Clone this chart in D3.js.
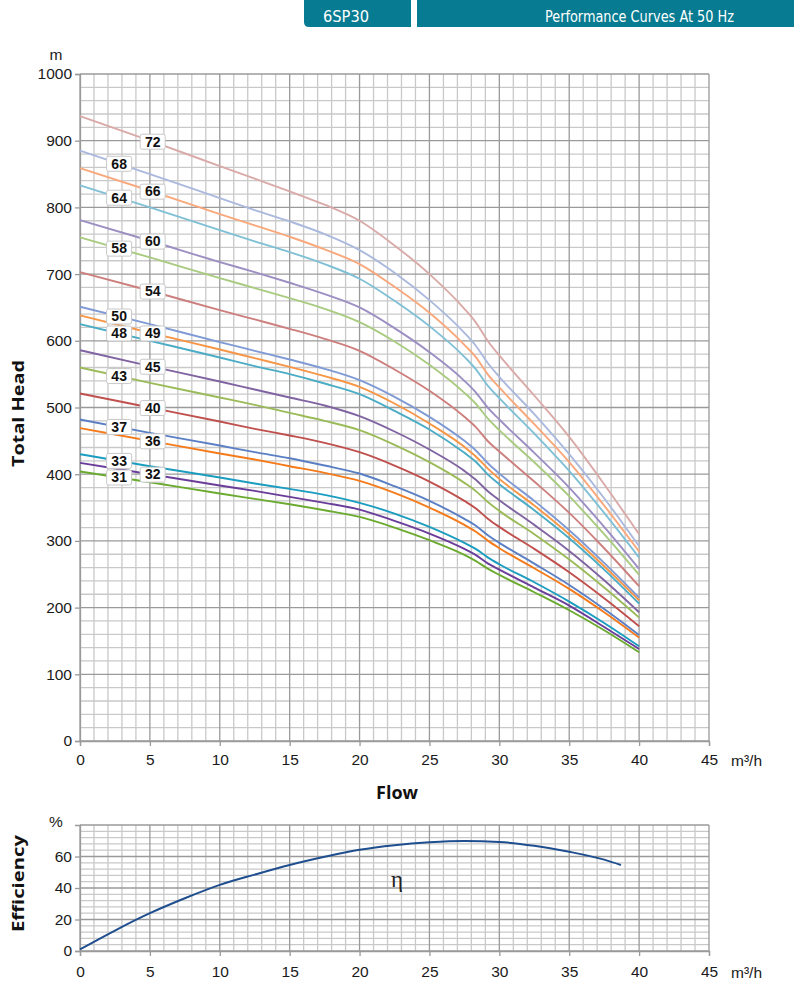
<!DOCTYPE html>
<html><head><meta charset="utf-8">
<script src="https://cdn.jsdelivr.net/npm/d3@7"></script>
<style>body{margin:0;background:#fff}svg{display:block}</style>
</head><body><svg id="c" width="794" height="994"></svg>
<script>
// ---------- data ----------
const flow = [0,5,10,12.5,15,17.5,20,22.5,25,27.5,28.3,29.2,30,32.5,35,37.5,40];
const stages = [31,32,33,36,37,40,43,45,48,49,50,54,58,60,64,66,68,72];
const head31 = [404,388,371,363,355,346,336,320,301,279,270,258,249,223,196,166,133];
const head32 = [417,400,383,375,366,357,347,330,311,288,279,266,257,230,203,171,138];
const head33 = [430,412,395,386,378,369,357,341,321,297,288,275,265,238,209,177,142];
const head36 = [469,450,431,422,412,402,390,372,350,324,314,300,289,259,228,193,155];
const head37 = [482,462,443,433,424,413,401,382,360,333,323,308,297,266,234,198,159];
const head40 = [521,500,479,468,458,447,433,413,389,360,349,333,321,288,253,214,172];
const head43 = [560,537,515,504,492,480,466,444,418,387,375,358,345,310,272,230,185];
const head45 = [586,562,539,527,515,503,487,464,437,405,392,374,361,324,285,241,193];
const head48 = [625,600,575,562,550,536,520,495,467,432,419,399,385,346,304,257,206];
const head49 = [638,612,587,574,561,547,531,506,476,441,427,408,393,353,310,262,211];
const head50 = [651,625,598,585,572,558,541,516,486,450,436,416,401,360,316,267,215];
const head54 = [703,675,646,632,618,603,585,557,525,486,471,449,434,389,342,289,232];
const head58 = [755,725,694,679,664,648,628,599,564,522,506,483,466,418,367,310,249];
const head60 = [781,750,718,703,687,670,650,619,583,540,523,499,482,432,380,321,258];
const head64 = [833,800,766,749,733,715,693,660,622,576,558,532,514,461,405,342,275];
const head66 = [859,825,790,773,756,737,715,681,642,594,576,549,530,475,418,353,284];
const head68 = [885,850,814,796,779,760,736,702,661,612,593,566,546,490,430,364,292];
const head72 = [937,900,862,843,824,804,780,743,700,648,628,599,578,518,456,385,310];
const heads = [head31,head32,head33,head36,head37,head40,head43,head45,head48,head49,head50,head54,head58,head60,head64,head66,head68,head72];
const curveColors = ["#6aaa2e","#6a3d9a","#1b9dc0","#f57a1a","#5a7fc4","#c0504d","#9bbb59","#8064a2","#4bacc6","#f79646","#7f9ad4","#cd7f7d","#a9cb80","#9c8fc3","#80c0d6","#f9a87c","#aab9dd","#d9aaa8"];
const labelFlow = [2.8,5.2,2.8,5.2,2.8,5.2,2.8,5.2,2.8,5.2,2.8,5.2,2.8,5.2,2.8,5.2,2.8,5.2];

const effFlow = [0,2.5,5,7.5,10,12.5,15,17.5,20,22.5,25,27.5,30,32.5,35,37.5,38.7];
const effValues = [1,13,24,33.5,42,48.5,54.6,59.8,64.3,67.2,69,69.8,69.2,66.8,63,58,54.6];

const xTicks = [0,5,10,15,20,25,30,35,40,45];
const headTicks = [0,100,200,300,400,500,600,700,800,900,1000];
const effTicks = [0,20,40,60];

// ---------- drawing ----------
const svg = d3.select("#c");
const FONT = "'Liberation Sans', Arimo, Arial, sans-serif";
const BOLD = "'Open Sans', 'DejaVu Sans', sans-serif";
const NARROW = "'Liberation Sans Narrow','DejaVu Sans Condensed','Liberation Sans',sans-serif";
const x = d3.scaleLinear([0,45],[80,709]);
const y = d3.scaleLinear([0,1000],[741,74]);
const ye = d3.scaleLinear([0,80],[951,825]);

// header
const teal = "#077b91";
svg.append("path").attr("d","M304,0 H411 V27 H309 Q304,27 304,22 Z").attr("fill",teal);
svg.append("rect").attr("x",417).attr("y",0).attr("width",377).attr("height",27).attr("fill",teal);
svg.append("text").attr("x",323).attr("y",22).attr("fill","#fff")
  .attr("font-family",NARROW).attr("font-size",16)
  .attr("textLength",46).attr("lengthAdjust","spacingAndGlyphs").text("6SP30");
svg.append("text").attr("x",545).attr("y",22).attr("fill","#fff")
  .attr("font-family",NARROW).attr("font-size",16)
  .attr("textLength",189).attr("lengthAdjust","spacingAndGlyphs").text("Performance Curves At 50 Hz");

function grid(g, xs, ys, xsc, ysc, yDomain) {
  const [y0,y1] = yDomain;
  const minorX = d3.range(0,46,1).filter(v=>v%5!==0);
  g.append("g").selectAll("line").data(minorX).join("line")
    .attr("x1",d=>xsc(d)).attr("x2",d=>xsc(d)).attr("y1",ysc(y0)).attr("y2",ysc(y1))
    .attr("stroke","#c9c9c9").attr("stroke-width",1.3);
  g.append("g").selectAll("line").data(ys.minor).join("line")
    .attr("x1",xsc(0)).attr("x2",xsc(45)).attr("y1",d=>ysc(d)).attr("y2",d=>ysc(d))
    .attr("stroke","#c9c9c9").attr("stroke-width",1.3);
  g.append("g").selectAll("line").data(xs).join("line")
    .attr("x1",d=>xsc(d)).attr("x2",d=>xsc(d)).attr("y1",ysc(y0)).attr("y2",ysc(y1))
    .attr("stroke","#9a9a9a").attr("stroke-width",1.3);
  g.append("g").selectAll("line").data(ys.major).join("line")
    .attr("x1",xsc(0)).attr("x2",xsc(45)).attr("y1",d=>ysc(d)).attr("y2",d=>ysc(d))
    .attr("stroke","#9a9a9a").attr("stroke-width",1.3);
}

// main grid
grid(svg.append("g"), xTicks, {minor:d3.range(0,1001,20).filter(v=>v%100!==0), major:headTicks}, x, y, [0,1000]);

function styleAxis(g){
  g.select(".domain").attr("stroke","#9a9a9a").attr("stroke-width",1.3);
  g.selectAll(".tick line").attr("stroke","#9a9a9a").attr("stroke-width",1.3);
  g.selectAll(".tick text").attr("fill","#1a1a1a").attr("font-family",FONT).attr("font-size",15.5);
}
svg.append("g").attr("transform","translate(80,0)")
  .call(d3.axisLeft(y).tickValues(headTicks).tickSize(5).tickPadding(3).tickFormat(d3.format("d")))
  .call(styleAxis);
svg.append("g").attr("transform","translate(0,741)")
  .call(d3.axisBottom(x).tickValues(xTicks).tickSize(5).tickPadding(8).tickFormat(d3.format("d")))
  .call(styleAxis);

// curves
const line = d3.line().x(d=>x(d[0])).y(d=>y(d[1])).curve(d3.curveMonotoneX);
const gc = svg.append("g");
heads.forEach((h,i)=>{
  gc.append("path").attr("d",line(flow.map((f,j)=>[f,h[j]])))
    .attr("fill","none").attr("stroke",curveColors[i]).attr("stroke-width",1.9);
});
function interp(xs, ys, q){
  const i = Math.max(1, d3.bisectLeft(xs,q));
  const t = (q - xs[i-1])/(xs[i]-xs[i-1]);
  return ys[i-1] + t*(ys[i]-ys[i-1]);
}
const gl = svg.append("g");
stages.forEach((s,i)=>{
  const cx = x(labelFlow[i]), cy = y(interp(flow, heads[i], labelFlow[i]));
  gl.append("rect").attr("x",cx-12.5).attr("y",cy-7.5).attr("width",25).attr("height",15).attr("rx",2)
    .attr("fill","#fff").attr("stroke","#c8c8c8").attr("stroke-width",1);
  gl.append("text").attr("x",cx).attr("y",cy+4.8).attr("text-anchor","middle")
    .attr("font-family",FONT).attr("font-weight","bold").attr("font-size",14).attr("fill","#111").text(s);
});

// unit / axis titles main
svg.append("text").attr("x",56).attr("y",60).attr("text-anchor","middle").attr("font-family",FONT).attr("font-size",15.5).attr("fill","#1a1a1a").text("m");
svg.append("text").attr("x",731).attr("y",766).attr("font-family",FONT).attr("font-size",15.5).attr("fill","#1a1a1a").text("m³/h");
svg.append("text").attr("x",376).attr("y",799).attr("font-family",BOLD).attr("font-weight","bold").attr("font-size",17.5).attr("fill","#111")
  .attr("textLength",42).attr("lengthAdjust","spacingAndGlyphs").text("Flow");
svg.append("text").attr("transform","translate(24,467) rotate(-90)").attr("font-family",BOLD).attr("font-weight","bold").attr("font-size",16).attr("fill","#111")
  .attr("textLength",107).attr("lengthAdjust","spacingAndGlyphs").text("Total Head");

// efficiency chart
grid(svg.append("g"), xTicks, {minor:d3.range(0,81,4).filter(v=>v%20!==0), major:[0,20,40,60,80]}, x, ye, [0,80]);
svg.append("g").attr("transform","translate(80,0)")
  .call(d3.axisLeft(ye).tickValues(effTicks).tickSize(5).tickPadding(3).tickFormat(d3.format("d")))
  .call(styleAxis);
svg.append("g").attr("transform","translate(0,951)")
  .call(d3.axisBottom(x).tickValues(xTicks).tickSize(5).tickPadding(10).tickFormat(d3.format("d")))
  .call(styleAxis);
const eline = d3.line().x(d=>x(d[0])).y(d=>ye(d[1])).curve(d3.curveMonotoneX);
svg.append("path").attr("d",eline(effFlow.map((f,j)=>[f,effValues[j]])))
  .attr("fill","none").attr("stroke","#1f4e8f").attr("stroke-width",2);
svg.append("text").attr("x",56).attr("y",827).attr("text-anchor","middle").attr("font-family",FONT).attr("font-size",15.5).attr("fill","#1a1a1a").text("%");
svg.append("text").attr("x",731).attr("y",978).attr("font-family",FONT).attr("font-size",15.5).attr("fill","#1a1a1a").text("m³/h");
svg.append("text").attr("x",397).attr("y",887).attr("text-anchor","middle").attr("font-family","'Liberation Serif','DejaVu Serif',serif").attr("font-size",23).attr("fill","#222").text("η");
svg.append("text").attr("transform","translate(24,932) rotate(-90)").attr("font-family",BOLD).attr("font-weight","bold").attr("font-size",16).attr("fill","#111")
  .attr("textLength",97).attr("lengthAdjust","spacingAndGlyphs").text("Efficiency");
</script></body></html>
